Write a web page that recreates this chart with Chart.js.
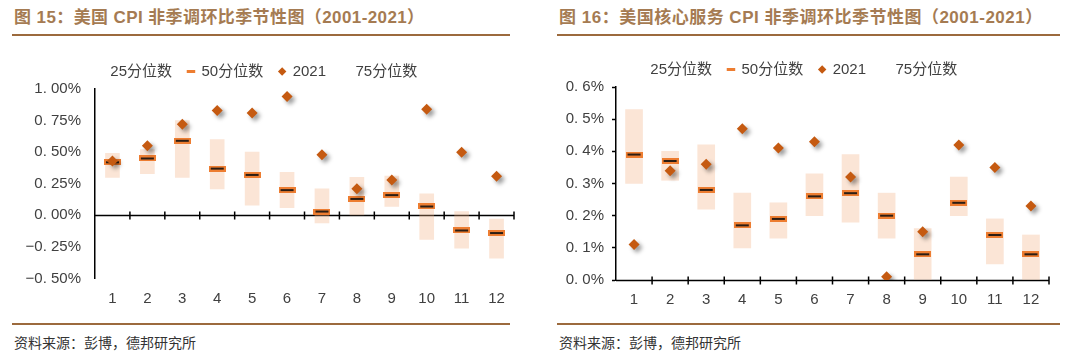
<!DOCTYPE html>
<html>
<head>
<meta charset="utf-8">
<script src="https://cdn.jsdelivr.net/npm/chart.js@4.4.1/dist/chart.umd.min.js"></script>
<style>
  body { margin: 0; width: 1080px; height: 352px; background: #fff; position: relative; overflow: hidden;
         font-family: "Liberation Sans", Arial, "Noto Sans CJK SC", sans-serif; }
  .title { position: absolute; top: 3px; font-size: 17px; font-weight: bold; color: #a57b52; white-space: nowrap; letter-spacing: 0.4px; }
  .rule { position: absolute; height: 2px; background: #9c6a3d; }
  .source { position: absolute; top: 332px; font-size: 14px; color: #333; white-space: nowrap; }
  .box { position: absolute; top: 38px; height: 282px; }
</style>
</head>
<body>
<div class="title" style="left:14px">图 15：美国 CPI 非季调环比季节性图（2001-2021）</div>
<div class="title" style="left:559px;letter-spacing:0.5px">图 16：美国核心服务 CPI 非季调环比季节性图（2001-2021）</div>
<div class="rule" style="left:12px;width:498px;top:34px"></div>
<div class="rule" style="left:557px;width:503px;top:34px"></div>
<div class="rule" style="left:12px;width:498px;top:323px"></div>
<div class="rule" style="left:557px;width:503px;top:323px"></div>
<div class="source" style="left:14px">资料来源：彭博，德邦研究所</div>
<div class="source" style="left:559px">资料来源：彭博，德邦研究所</div>

<div class="box" style="left:0;width:540px"><canvas id="cpiChart" width="540" height="282"></canvas></div>
<div class="box" style="left:545px;width:535px"><canvas id="svcChart" width="535" height="282"></canvas></div>

<script>
// Months on the x axis
const months = ['1', '2', '3', '4', '5', '6', '7', '8', '9', '10', '11', '12'];

// Fig 15: US CPI, m/m, not seasonally adjusted (%)
const cpiP25 = [0.30, 0.33, 0.30, 0.21, 0.08, 0.06, -0.06, 0.00, 0.07, -0.19, -0.26, -0.34];
const cpiP50 = [0.42, 0.45, 0.59, 0.37, 0.32, 0.20, 0.03, 0.13, 0.16, 0.07, -0.12, -0.14];
const cpiP75 = [0.49, 0.52, 0.75, 0.60, 0.50, 0.34, 0.21, 0.30, 0.31, 0.17, 0.03, -0.03];
const cpi2021 = [0.43, 0.55, 0.72, 0.83, 0.81, 0.94, 0.48, 0.21, 0.28, 0.84, 0.50, 0.31];
const cpiYLabels = ['−0. 50%', '−0. 25%', '0. 00%', '0. 25%', '0. 50%', '0. 75%', '1. 00%'];

// Fig 16: US core services CPI, m/m, not seasonally adjusted (%)
const svcP25 = [0.30, 0.31, 0.22, 0.10, 0.13, 0.20, 0.18, 0.13, 0.00, 0.20, 0.05, 0.00];
const svcP50 = [0.39, 0.37, 0.28, 0.17, 0.19, 0.26, 0.27, 0.20, 0.08, 0.24, 0.14, 0.08];
const svcP75 = [0.53, 0.40, 0.42, 0.27, 0.24, 0.33, 0.39, 0.27, 0.16, 0.32, 0.19, 0.14];
const svc2021 = [0.11, 0.34, 0.36, 0.47, 0.41, 0.43, 0.32, 0.01, 0.15, 0.42, 0.35, 0.23];
const svcYLabels = ['0. 0%', '0. 1%', '0. 2%', '0. 3%', '0. 4%', '0. 5%', '0. 6%'];

const legendLabels = ['25分位数', '50分位数', '2021', '75分位数'];

const ORANGE = '#ed7d31';
const DIAMOND = '#c55a11';
const PEACH = 'rgba(244, 177, 131, 0.33)';
const TEXT = '#404040';

Chart.defaults.font.family = '"Liberation Sans", Arial, "Noto Sans CJK SC", sans-serif';
Chart.defaults.color = TEXT;

// Median marker: orange dash with a dark core, like the Excel dash marker
function makeDash() {
  const c = document.createElement('canvas');
  c.width = 17; c.height = 6;
  const g = c.getContext('2d');
  g.fillStyle = ORANGE;
  g.fillRect(0, 0, 17, 6);
  g.fillStyle = '#2b1d14';
  g.fillRect(2, 2, 13, 2);
  return c;
}
const dashImg = makeDash();

// Axis through zero with tick marks between the months
const zeroAxis = {
  id: 'zeroAxis',
  beforeDatasetsDraw(chart) {
    const { ctx, chartArea, scales: { x, y } } = chart;
    const y0 = Math.round(y.getPixelForValue(0)) + 0.5;
    ctx.save();
    ctx.strokeStyle = '#000';
    ctx.lineWidth = 1.5;
    ctx.beginPath();
    ctx.moveTo(chartArea.left, y0);
    ctx.lineTo(chartArea.right, y0);
    for (let i = 1; i <= months.length; i++) {
      const px = x.getPixelForValue(i - 0.5);
      ctx.moveTo(px, y0 - 4);
      ctx.lineTo(px, y0 + 4);
    }
    ctx.stroke();
    ctx.restore();
  }
};

// Soft drop shadow under the 2021 diamonds
const dropShadow = {
  id: 'dropShadow',
  beforeDatasetDraw(chart, args) {
    if (!chart.data.datasets[args.index].shadow) return;
    const ctx = chart.ctx;
    ctx.save();
    ctx.shadowColor = 'rgba(0, 0, 0, 0.4)';
    ctx.shadowBlur = 4;
    ctx.shadowOffsetX = 3;
    ctx.shadowOffsetY = 3;
  },
  afterDatasetDraw(chart, args) {
    if (!chart.data.datasets[args.index].shadow) return;
    chart.ctx.restore();
  }
};

function buildChart(id, p25, p50, p75, y2021, yMin, yMax, yStep, yLabels, axisWidth, padRight, padTop, padBottom, barWidth, showYTicks) {
  const ctx = document.getElementById(id).getContext('2d');
  return new Chart(ctx, {
    type: 'bar',
    data: {
      labels: months,
      datasets: [
        {
          type: 'line',
          label: '2021',
          data: y2021,
          showLine: false,
          pointStyle: 'rectRot',
          pointRadius: 5.5,
          pointBackgroundColor: DIAMOND,
          pointBorderColor: DIAMOND,
          pointBorderWidth: 0,
          shadow: true,
          order: 1
        },
        {
          type: 'line',
          label: '50分位数',
          data: p50,
          showLine: false,
          pointStyle: dashImg,
          order: 2
        },
        {
          label: '75分位数',
          data: p25.map((lo, i) => [lo, p75[i]]),
          backgroundColor: PEACH,
          borderWidth: 0,
          barThickness: barWidth,
          order: 3
        }
      ]
    },
    options: {
      responsive: false,
      animation: false,
      layout: { padding: { left: 0, right: padRight, top: padTop, bottom: padBottom } },
      plugins: {
        tooltip: { enabled: false },
        legend: {
          display: true,
          position: 'top',
          labels: {
            usePointStyle: true,
            boxWidth: 6,
            boxHeight: 6,
            padding: 16,
            font: { size: 15 },
            color: TEXT,
            generateLabels: () => [
              { text: legendLabels[0], fillStyle: 'rgba(0,0,0,0)', strokeStyle: 'rgba(0,0,0,0)', lineWidth: 0, pointStyle: 'circle', fontColor: TEXT },
              { text: legendLabels[1], fillStyle: ORANGE, strokeStyle: ORANGE, lineWidth: 3, pointStyle: 'line', fontColor: TEXT },
              { text: legendLabels[2], fillStyle: DIAMOND, strokeStyle: DIAMOND, lineWidth: 0, pointStyle: 'rectRot', fontColor: TEXT },
              { text: legendLabels[3], fillStyle: 'rgba(0,0,0,0)', strokeStyle: 'rgba(0,0,0,0)', lineWidth: 0, pointStyle: 'circle', fontColor: TEXT }
            ]
          }
        }
      },
      scales: {
        x: {
          offset: true,
          grid: { display: false, drawTicks: false },
          border: { display: false },
          ticks: { padding: 11, font: { size: 15 }, color: TEXT },
          afterFit: (s) => { s.height = 30; }
        },
        y: {
          min: yMin,
          max: yMax,
          grid: {
            color: 'rgba(0,0,0,0)',
            drawTicks: showYTicks,
            tickLength: 4,
            tickColor: '#000',
            tickWidth: 1.5
          },
          border: { display: true, color: '#000', width: 1.5 },
          ticks: {
            stepSize: yStep,
            padding: showYTicks ? 8 : 14,
            font: { size: 15 },
            color: TEXT,
            callback: (v, i) => yLabels[i]
          },
          afterFit: (s) => { s.width = axisWidth; }
        }
      }
    },
    plugins: [zeroAxis, dropShadow]
  });
}

buildChart('cpiChart', cpiP25, cpiP50, cpiP75, cpi2021, -0.5, 1.0, 0.25, cpiYLabels, 95, 26, 10, 11.5, 14, false);
buildChart('svcChart', svcP25, svcP50, svcP75, svc2021, 0, 0.6, 0.1, svcYLabels, 71, 31, 8, 10, 17, true);
</script>
</body>
</html>
